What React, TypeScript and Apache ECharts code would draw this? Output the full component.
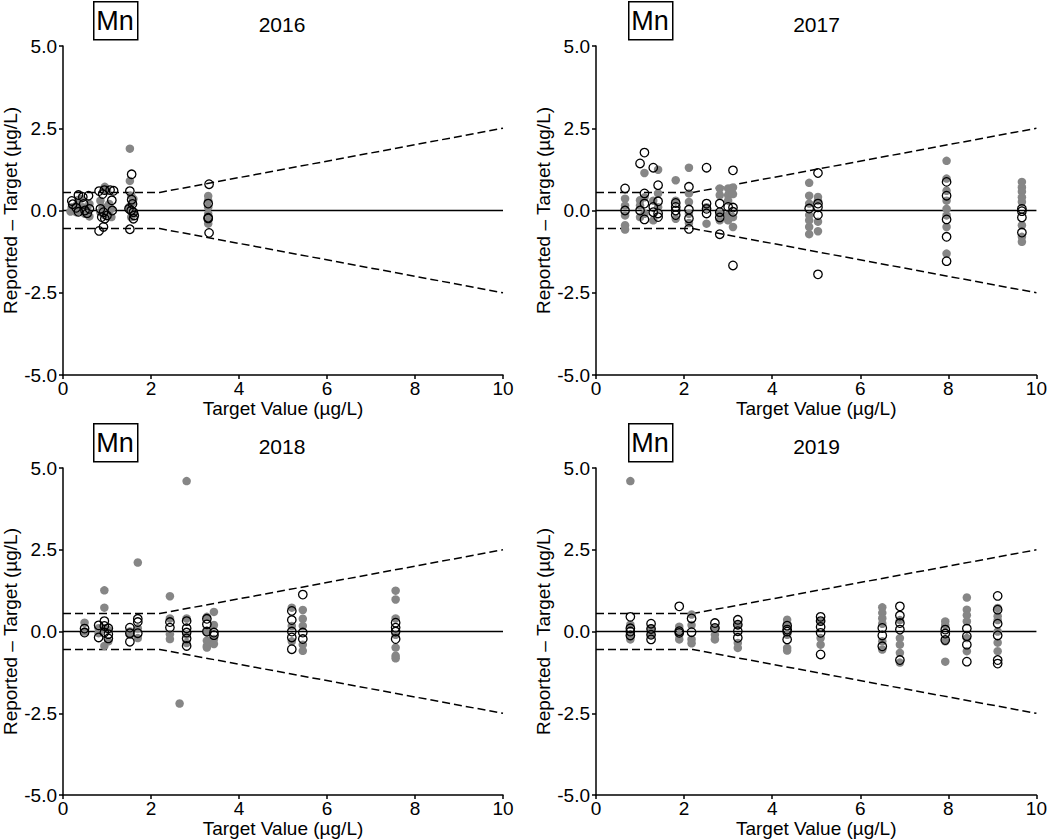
import React, { useEffect, useRef } from "react";
import * as echarts from "echarts";

const years = ["2016", "2017", "2018", "2019"];
const elementLabel = "Mn";
const xTitle = "Target Value (µg/L)";
const yTitle = "Reported – Target (µg/L)";

// limit lines (dashed) and zero line
const limitX = [0, 2.2, 10];
const upperLimit = [0.55, 0.55, 2.5];
const lowerLimit = [-0.55, -0.55, -2.5];
const zeroX = [0, 10];
const zeroY = [0, 0];

// [target value, reported - target]
const grey2016 = [
  [0.2, 0.1], [0.25, 0.0], [0.3, -0.05], [0.35, 0.32], [0.4, 0.35], [0.45, 0.1], [0.5, -0.1], [0.55, 0.05], [0.6, -0.18], [0.3, 0.15], [0.45, -0.05], [0.6, 0.2], [0.17, -0.03],
  [0.95, 0.72], [1.0, 0.6], [0.85, 0.3], [0.9, 0.1], [1.0, -0.1], [1.1, -0.2], [0.95, -0.15], [0.85, -0.05], [1.05, 0.2], [1.1, 0.05],
  [1.52, 1.88], [1.52, 0.9], [1.55, 0.45], [1.58, 0.25], [1.5, 0.1], [1.6, -0.1], [1.55, -0.2], [1.6, 0.35],
  [3.3, 0.44], [3.3, 0.3], [3.3, 0.1], [3.3, -0.1], [3.3, -0.4], [3.3, -0.3],
];
const open2016 = [
  [0.2, 0.29], [0.22, 0.19], [0.35, 0.47], [0.45, 0.41], [0.58, 0.45], [0.35, -0.04], [0.5, 0.0], [0.55, -0.08], [0.47, 0.2], [0.3, 0.08], [0.6, 0.05],
  [0.82, 0.59], [0.94, 0.62], [1.07, 0.62], [1.15, 0.6], [1.11, 0.31], [0.9, 0.5], [0.85, 0.05], [0.92, -0.05], [1.0, -0.15], [1.12, 0.0], [0.88, -0.2], [0.95, -0.25], [0.82, -0.62], [0.92, -0.5],
  [1.56, 1.1], [1.52, 0.59], [1.56, 0.33], [1.5, 0.05], [1.55, 0.0], [1.6, -0.05], [1.58, 0.2], [1.62, -0.15], [1.6, -0.25], [1.52, -0.57],
  [3.32, 0.8], [3.3, 0.21], [3.3, -0.24], [3.3, -0.22], [3.32, -0.68],
];

const grey2017 = [
  [0.66, 0.36], [0.66, 0.15], [0.66, -0.15], [0.66, -0.45], [0.66, -0.58],
  [1.1, 1.14], [1.0, 0.31], [1.0, 0.15], [1.1, -0.1], [1.0, -0.2], [1.1, 0.4],
  [1.41, 1.24], [1.41, 0.52], [1.3, -0.3], [1.3, 0.3], [1.41, 0.1],
  [1.81, 0.92], [1.81, -0.25], [1.81, 0.3],
  [2.11, 1.3], [2.11, 0.52], [2.11, 0.26], [2.11, -0.38], [2.11, -0.1],
  [2.51, -0.4], [2.51, 0.1],
  [2.81, 0.67], [2.81, 0.47], [2.81, -0.1], [2.81, -0.3],
  [3.0, 0.67], [3.0, 0.47], [3.0, -0.14], [3.0, -0.3], [3.0, 0.3],
  [3.11, 0.7], [3.11, 0.5], [3.11, -0.5], [3.11, -0.2],
  [4.84, 0.84], [4.84, 0.45], [4.84, 0.21], [4.84, -0.14], [4.84, -0.5], [4.84, -0.72], [4.84, -0.3],
  [5.04, 0.41], [5.04, -0.34], [5.04, -0.63], [5.04, 0.3],
  [7.96, 1.51], [7.96, 0.97], [7.96, 0.6], [7.96, 0.05], [7.96, -0.5], [7.96, -1.31], [7.96, 0.3], [7.96, -0.15],
  [9.67, 0.87], [9.67, 0.7], [9.67, 0.57], [9.67, 0.26], [9.67, -0.45], [9.67, -0.95], [9.67, 0.4], [9.67, -0.8],
];
const open2017 = [
  [0.66, 0.67], [0.66, 0.0], [1.0, 1.43], [1.1, 1.76], [1.1, 0.52], [1.1, 0.21], [1.0, 0.0], [1.1, -0.27],
  [1.3, 1.3], [1.41, 0.77], [1.41, 0.28], [1.3, 0.11], [1.3, -0.05], [1.41, -0.09], [1.41, -0.2],
  [1.81, 0.23], [1.81, 0.11], [1.81, 0.0], [1.81, -0.14],
  [2.11, 0.72], [2.11, 0.03], [2.11, -0.24], [2.11, -0.56],
  [2.51, 1.3], [2.51, 0.21], [2.51, 0.05], [2.51, -0.09],
  [2.81, 0.21], [2.81, -0.05], [2.81, -0.21], [2.81, -0.72],
  [3.0, 0.11], [3.11, 1.22], [3.11, 0.09], [3.11, -0.04], [3.11, -1.67],
  [4.84, 0.06], [5.04, 1.14], [5.04, 0.21], [5.04, 0.1], [5.04, -0.14], [5.04, -1.94],
  [7.96, 0.87], [7.96, 0.45], [7.96, -0.27], [7.96, -0.8], [7.96, -1.54],
  [9.67, -0.02], [9.67, -0.21], [9.67, -0.67], [9.67, 0.05],
];

const grey2018 = [
  [0.49, 0.27], [0.49, 0.0], [0.81, 0.1], [0.81, -0.05], [0.94, 1.26], [0.94, 0.73], [0.94, 0.1], [0.94, -0.44], [1.03, 0.05], [1.03, -0.3],
  [1.52, 0.0], [1.52, -0.1], [1.7, 2.11], [1.7, -0.2], [1.7, 0.1],
  [2.43, 1.08], [2.43, 0.4], [2.43, -0.08], [2.43, -0.23],
  [2.81, 4.6], [2.81, 0.4], [2.81, -0.1], [2.81, -0.35], [2.65, -2.2],
  [3.27, 0.45], [3.27, -0.03], [3.27, -0.28], [3.27, -0.44], [3.27, -0.49],
  [3.43, 0.6], [3.43, 0.2], [3.43, -0.23], [3.43, -0.38],
  [5.2, 0.73], [5.2, 0.17], [5.2, -0.3], [5.45, 0.66], [5.45, 0.39], [5.45, 0.17], [5.45, -0.4], [5.45, -0.59],
  [7.56, 1.25], [7.56, 0.98], [7.56, 0.4], [7.56, -0.1], [7.56, -0.49], [7.56, -0.74], [7.56, -0.82],
];
const open2018 = [
  [0.49, 0.09], [0.49, -0.03], [0.81, 0.19], [0.81, -0.18], [0.94, 0.32], [0.94, 0.17], [0.94, -0.03], [1.03, -0.08], [1.03, -0.21], [1.03, 0.1],
  [1.52, 0.12], [1.52, -0.05], [1.52, -0.31], [1.7, 0.39], [1.7, 0.29], [1.7, -0.05],
  [2.43, 0.29], [2.43, 0.12], [2.81, 0.32], [2.81, 0.1], [2.81, -0.03], [2.81, -0.21], [2.81, -0.44],
  [3.27, 0.39], [3.27, 0.22], [3.27, 0.0], [3.43, -0.03], [3.43, -0.11],
  [5.2, 0.63], [5.2, 0.35], [5.2, 0.0], [5.2, -0.18], [5.2, -0.54], [5.45, 1.13], [5.45, -0.03], [5.45, -0.23],
  [7.56, 0.27], [7.56, 0.12], [7.56, 0.0], [7.56, -0.23],
];

const grey2019 = [
  [0.78, 4.6], [0.78, 0.21], [0.78, -0.1], [0.78, -0.24], [1.25, 0.1], [1.25, -0.1],
  [1.89, 0.15], [1.89, -0.24], [1.89, -0.1], [2.17, 0.52], [2.17, 0.2], [2.17, -0.24], [2.17, -0.36],
  [2.7, 0.1], [2.7, -0.1], [2.7, -0.24], [3.22, 0.2], [3.22, -0.35], [3.22, -0.5],
  [4.34, 0.36], [4.34, 0.25], [4.34, -0.1], [4.34, -0.5], [4.34, -0.58], [5.1, 0.3], [5.1, -0.4], [5.1, -0.2],
  [6.5, 0.74], [6.5, 0.57], [6.5, 0.4], [6.5, 0.24], [6.5, -0.3], [6.5, -0.55],
  [6.9, 0.35], [6.9, -0.2], [6.9, -0.4], [6.9, -0.65], [6.9, -0.95],
  [7.93, 0.31], [7.93, 0.2], [7.93, -0.3], [7.93, -0.92],
  [8.42, 1.04], [8.42, 0.67], [8.42, 0.5], [8.42, 0.31], [8.42, -0.6], [8.42, -0.2],
  [9.12, 0.72], [9.12, 0.47], [9.12, 0.35], [9.12, -0.34], [9.12, -0.6], [9.12, 0.0],
];
const open2019 = [
  [0.78, 0.45], [0.78, 0.1], [0.78, 0.0], [0.78, -0.12], [1.25, 0.24], [1.25, 0.08], [1.25, -0.1], [1.25, -0.24],
  [1.89, 0.77], [1.89, 0.01], [1.89, -0.04], [2.17, 0.4], [2.17, -0.02], [2.7, 0.26], [2.7, 0.11],
  [3.22, 0.36], [3.22, 0.21], [3.22, 0.01], [3.22, -0.19], [4.34, 0.18], [4.34, 0.06], [4.34, -0.24], [4.34, 0.0],
  [5.1, 0.45], [5.1, 0.32], [5.1, 0.14], [5.1, -0.04], [5.1, -0.7],
  [6.5, 0.11], [6.5, -0.12], [6.5, -0.45], [6.9, 0.77], [6.9, 0.49], [6.9, 0.26], [6.9, 0.06], [6.9, -0.87],
  [7.93, 0.06], [7.93, -0.06], [7.93, -0.26], [8.42, 0.09], [8.42, -0.14], [8.42, -0.4], [8.42, -0.92],
  [9.12, 1.09], [9.12, 0.67], [9.12, 0.24], [9.12, -0.12], [9.12, -0.87], [9.12, -0.98],
];

const greySets = [grey2016, grey2017, grey2018, grey2019];
const openSets = [open2016, open2017, open2018, open2019];

const FONT = "'Liberation Sans', Arial, Helvetica, sans-serif";

export default function App() {
  const ref = useRef<HTMLDivElement>(null);
  useEffect(() => {
    if (!ref.current) return;
    const chart = echarts.init(ref.current, null, { renderer: "svg" });
    const panels = [
      { left: 61, top: 46, width: 442, height: 329 },
      { left: 596, top: 46, width: 441, height: 329 },
      { left: 61, top: 468, width: 442, height: 329 },
      { left: 596, top: 468, width: 441, height: 329 },
    ];
    const axisLine = { show: true, onZero: false, lineStyle: { color: "#000", width: 1.5 } };
    const grid = panels.map((p) => ({ ...p, containLabel: false }));
    const xAxis = panels.map((_, i) => ({
      type: "value",
      gridIndex: i,
      min: 0,
      max: 10,
      interval: 2,
      axisLine,
      axisTick: { show: true, inside: false, length: 4, lineStyle: { color: "#000", width: 1.5 } },
      axisLabel: { color: "#000", fontSize: 19, fontFamily: FONT, margin: 4 },
      splitLine: { show: false },
      name: xTitle,
      nameLocation: "middle",
      nameGap: 21,
      nameTextStyle: { color: "#000", fontSize: 19, fontFamily: FONT },
    }));
    const yAxis = panels.map((_, i) => ({
      type: "value",
      gridIndex: i,
      min: -5,
      max: 5,
      interval: 2.5,
      axisLine,
      axisTick: { show: true, inside: false, length: 4, lineStyle: { color: "#000", width: 1.5 } },
      axisLabel: {
        color: "#000",
        fontSize: 19,
        fontFamily: FONT,
        margin: 6,
        formatter: (v: number) => v.toFixed(1),
      },
      splitLine: { show: false },
      name: yTitle,
      nameLocation: "middle",
      nameGap: 43,
      nameRotate: 90,
      nameTextStyle: { color: "#000", fontSize: 19, fontFamily: FONT },
    }));
    const series: any[] = [];
    panels.forEach((_, i) => {
      series.push({
        type: "line",
        xAxisIndex: i,
        yAxisIndex: i,
        data: limitX.map((x, k) => [x, upperLimit[k]]),
        symbol: "none",
        lineStyle: { color: "#000", width: 1.5, type: [8, 4] },
        z: 2,
      });
      series.push({
        type: "line",
        xAxisIndex: i,
        yAxisIndex: i,
        data: limitX.map((x, k) => [x, lowerLimit[k]]),
        symbol: "none",
        lineStyle: { color: "#000", width: 1.5, type: [8, 4] },
        z: 2,
      });
      series.push({
        type: "line",
        xAxisIndex: i,
        yAxisIndex: i,
        data: zeroX.map((x, k) => [x, zeroY[k]]),
        symbol: "none",
        lineStyle: { color: "#000", width: 1.6 },
        z: 2,
      });
      series.push({
        type: "scatter",
        xAxisIndex: i,
        yAxisIndex: i,
        data: greySets[i],
        symbol: "circle",
        symbolSize: 8.5,
        itemStyle: { color: "#868686", opacity: 1 },
        z: 3,
      });
      series.push({
        type: "scatter",
        xAxisIndex: i,
        yAxisIndex: i,
        data: openSets[i],
        symbol: "circle",
        symbolSize: 8.5,
        itemStyle: { color: "rgba(255,255,255,0)", borderColor: "#000", borderWidth: 1.3, opacity: 1 },
        z: 4,
      });
    });
    const graphic: any[] = [];
    panels.forEach((p, i) => {
      graphic.push({
        type: "rect",
        left: p.left + 32,
        top: p.top - 45,
        shape: { width: 44, height: 38 },
        style: { fill: "#fff", stroke: "#000", lineWidth: 1.5 },
      });
      graphic.push({
        type: "text",
        x: p.left + 54,
        y: p.top - 25,
        style: {
          text: elementLabel,
          fill: "#000",
          fontSize: 27,
          fontFamily: FONT,
          textAlign: "center",
          textVerticalAlign: "middle",
        },
      });
      graphic.push({
        type: "text",
        x: p.left + p.width / 2,
        y: p.top - 22,
        style: {
          text: years[i],
          fill: "#000",
          fontSize: 21,
          fontFamily: FONT,
          textAlign: "center",
          textVerticalAlign: "middle",
        },
      });
    });
    chart.setOption({
      animation: false,
      backgroundColor: "#fff",
      grid,
      xAxis,
      yAxis,
      series,
      graphic,
    });
    return () => chart.dispose();
  }, []);
  return (
    <div
      ref={ref}
      style={{ position: "absolute", left: 0, top: 0, width: 1050, height: 839, background: "#fff" }}
    />
  );
}
